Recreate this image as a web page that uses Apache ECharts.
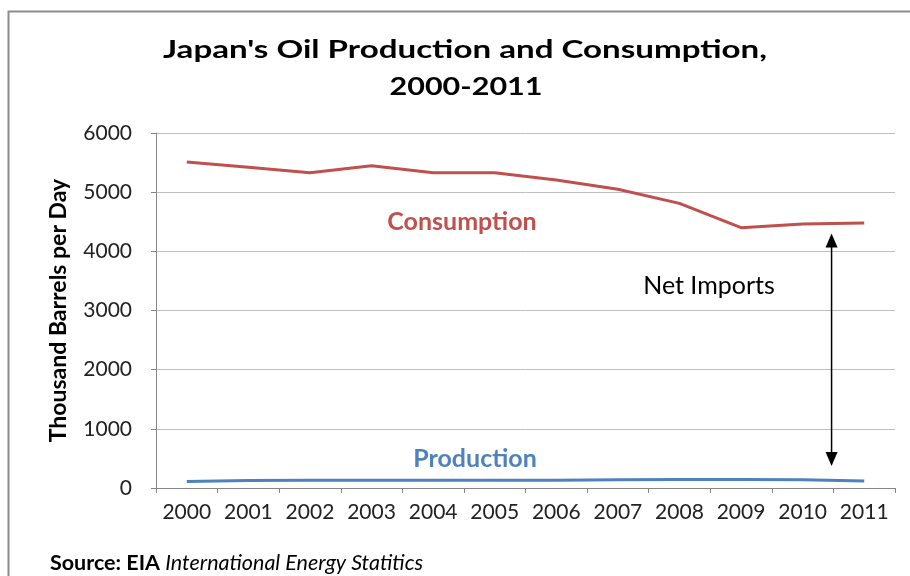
<!DOCTYPE html>
<html><head><meta charset="utf-8">
<script src="https://cdn.jsdelivr.net/npm/echarts@6/dist/echarts.min.js"></script>
<style>html,body{margin:0;padding:0;background:#fff}#c{width:910px;height:576px}</style>
</head><body><div id="c"></div>
<script>
var years = ['2000','2001','2002','2003','2004','2005','2006','2007','2008','2009','2010','2011'];
var consumption = [5510, 5420, 5330, 5445, 5330, 5330, 5205, 5050, 4810, 4400, 4460, 4480];
var production = [110, 125, 130, 130, 130, 130, 130, 140, 145, 145, 140, 118];
var yTicks = [0, 1000, 2000, 3000, 4000, 5000, 6000];
var titleLines = ["Japan's Oil Production and Consumption,", "2000-2011"];
var yName = 'Thousand Barrels per Day';
var arrowRange = [4300, 370];

var FONT = 'Lato, "Liberation Sans", sans-serif';
var chart = echarts.init(document.getElementById('c'), null, {renderer: 'canvas'});
var option = {
  backgroundColor: '#fff',
  animation: false,
  grid: {left: 156, right: 15, top: 133, bottom: 88, containLabel: false},
  xAxis: {
    type: 'category', data: years, boundaryGap: true,
    axisLine: {lineStyle: {color: '#868686', width: 1}},
    axisTick: {show: true, length: 5, lineStyle: {color: '#868686'}},
    axisLabel: {fontFamily: FONT, fontSize: 21, color: '#222', margin: 14, interval: 0}
  },
  yAxis: {
    type: 'value', min: yTicks[0], max: yTicks[yTicks.length - 1], interval: 1000,
    name: yName, nameLocation: 'middle', nameGap: 86, nameRotate: 90,
    nameTextStyle: {fontFamily: FONT, fontWeight: 'bold', fontSize: 23, color: '#000'},
    axisLine: {show: true, lineStyle: {color: '#868686'}},
    axisTick: {show: true, length: 5, lineStyle: {color: '#868686'}},
    axisLabel: {fontFamily: FONT, fontSize: 21, color: '#222', margin: 24, formatter: function (v) { return String(v); }},
    splitLine: {lineStyle: {color: '#bfbfbf', width: 1}}
  },
  series: [
    {name: 'Consumption', type: 'line', data: consumption, symbol: 'none',
     lineStyle: {color: '#C0504D', width: 3}, itemStyle: {color: '#C0504D'}},
    {name: 'Production', type: 'line', data: production, symbol: 'none',
     lineStyle: {color: '#4F81BD', width: 3}, itemStyle: {color: '#4F81BD'}}
  ]
};
chart.setOption(option);

var x10 = chart.convertToPixel({xAxisIndex: 0}, '2010');
var x11 = chart.convertToPixel({xAxisIndex: 0}, '2011');
var ax = x10 + (x11 - x10) * 0.47;
var yTop = chart.convertToPixel({yAxisIndex: 0}, arrowRange[0]);
var yBot = chart.convertToPixel({yAxisIndex: 0}, arrowRange[1]);
var hw = 6, hh = 14;

var titleFont = 'bold 24px ' + FONT;
var mctx = document.createElement('canvas').getContext('2d');
mctx.font = titleFont;
var s1 = 604 / mctx.measureText(titleLines[0]).width;
var s2 = 153 / mctx.measureText(titleLines[1]).width;

chart.setOption({
  graphic: [
    {type: 'rect', left: 6, top: 9, silent: true, z: -1,
     shape: {x: 0, y: 0, width: 1000, height: 1000},
     style: {fill: 'none', stroke: '#8c8c8c', lineWidth: 2}},
    {type: 'text', x: 465, y: 50, scaleX: s1, style: {text: titleLines[0], fill: '#000', font: titleFont, textAlign: 'center', textVerticalAlign: 'middle'}},
    {type: 'text', x: 466, y: 87, scaleX: s2, style: {text: titleLines[1], fill: '#000', font: titleFont, textAlign: 'center', textVerticalAlign: 'middle'}},
    {type: 'text', x: 462, y: 222, style: {text: 'Consumption', fill: '#C0504D', font: 'bold 25px ' + FONT, textAlign: 'center', textVerticalAlign: 'middle'}},
    {type: 'text', x: 475, y: 459, style: {text: 'Production', fill: '#4F81BD', font: 'bold 25px ' + FONT, textAlign: 'center', textVerticalAlign: 'middle'}},
    {type: 'text', x: 709, y: 286, style: {text: 'Net Imports', fill: '#000', font: '25px ' + FONT, textAlign: 'center', textVerticalAlign: 'middle'}},
    {type: 'line', shape: {x1: ax, y1: yTop + hh - 2, x2: ax, y2: yBot - hh + 2}, style: {stroke: '#000', lineWidth: 1.5}},
    {type: 'polygon', shape: {points: [[ax, yTop], [ax - hw, yTop + hh], [ax + hw, yTop + hh]]}, style: {fill: '#000'}},
    {type: 'polygon', shape: {points: [[ax, yBot], [ax - hw, yBot - hh], [ax + hw, yBot - hh]]}, style: {fill: '#000'}},
    {type: 'text', x: 50, y: 563, style: {text: '{b|Source: EIA }{i|International Energy Statitics}', textVerticalAlign: 'middle',
      rich: {b: {fontFamily: FONT, fontWeight: 'bold', fontSize: 21.5, color: '#222'},
             i: {fontFamily: FONT, fontStyle: 'italic', fontSize: 21.5, color: '#222'}}}}
  ]
});
</script></body></html>
